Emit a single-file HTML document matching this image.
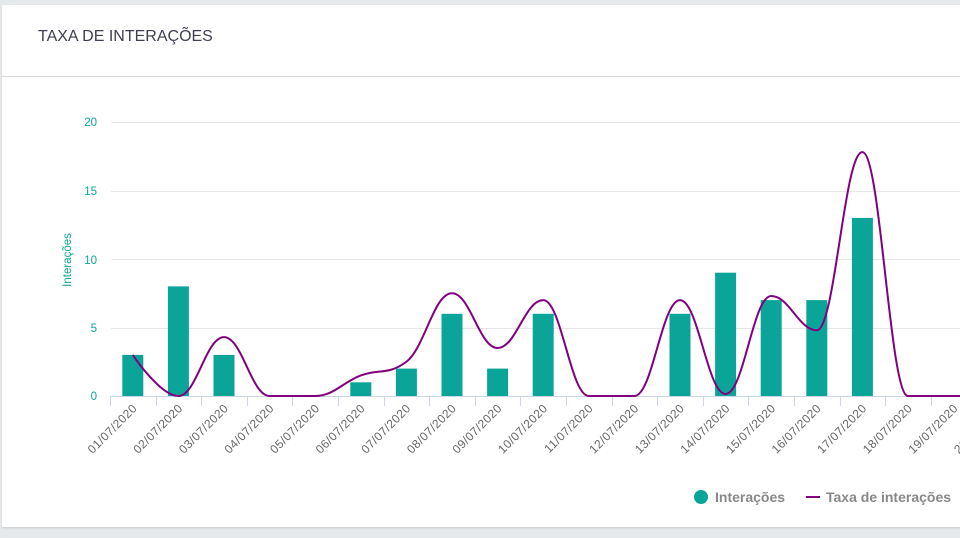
<!DOCTYPE html>
<html><head><meta charset="utf-8"><style>
html,body{margin:0;padding:0;}
body{width:960px;height:538px;background:#e6e9ec;position:relative;overflow:hidden;font-family:"Liberation Sans",sans-serif;}
.card{position:absolute;left:2px;top:5px;width:970px;height:522px;background:#fff;box-shadow:0 1px 2px rgba(0,0,0,.12);}
.title{position:absolute;left:36px;top:23px;font-size:16px;color:#3e3e52;}
.hr{position:absolute;left:0;top:71px;width:100%;height:1px;background:#d9d9d9;}
svg{position:absolute;left:0;top:0;}
</style></head><body>
<div class="card"><div class="title">TAXA DE INTERAÇÕES</div><div class="hr"></div></div>
<svg id="s" width="960" height="538" xmlns="http://www.w3.org/2000/svg" font-family="Liberation Sans, sans-serif">
<g stroke="#e6e6e6" stroke-width="1">
<line x1="111" x2="960" y1="122.5" y2="122.5"/>
<line x1="111" x2="960" y1="191.5" y2="191.5"/>
<line x1="111" x2="960" y1="259.5" y2="259.5"/>
<line x1="111" x2="960" y1="328.5" y2="328.5"/>
</g>
<g fill="#0aa598" font-size="11.5" text-anchor="end">
<text x="97" y="126">20</text><text x="97" y="195">15</text><text x="97" y="264">10</text><text x="97" y="332">5</text><text x="97" y="400">0</text>
</g>
<text fill="#0aa598" font-size="11.5" transform="translate(71,260) rotate(-90)" text-anchor="middle">Interações</text>
<g id="bars" fill="#0aa598"></g>
<line x1="110" x2="960" y1="396.5" y2="396.5" stroke="#ccd6eb"/>
<g id="ticks" stroke="#ccd6eb"></g>
<g id="labels" fill="#666" font-size="12" letter-spacing="0.4" text-anchor="end"></g>
<path id="ln" fill="none" stroke="#800080" stroke-width="2"/>
<circle cx="701" cy="497" r="7" fill="#0aa598"/>
<text x="715" y="502" font-size="14" font-weight="bold" fill="#888">Interações</text>
<line x1="806" x2="820" y1="497" y2="497" stroke="#800080" stroke-width="2"/>
<text x="826" y="502" font-size="14" font-weight="bold" fill="#888">Taxa de interações</text>
</svg>
<script>
var ns="http://www.w3.org/2000/svg";
var bars=[3,8,3,0,0,1,2,6,2,6,0,0,6,9,7,7,13,0,0,0];
var line=[3,0,4.3,0,0,1.5,2.5,7.5,3.5,7,0,0,7,0.15,7.3,4.8,17.8,0,0,0];
var step=45.6,x0=110,y0=396,k=13.7;
function cx(i){return x0+step*(i+0.5);}
var B=document.getElementById('bars'),T=document.getElementById('ticks'),L=document.getElementById('labels');
for(var i=0;i<20;i++){
 if(bars[i]>0){var r=document.createElementNS(ns,'rect');r.setAttribute('x',cx(i)-10.5);r.setAttribute('width',21);r.setAttribute('y',y0-bars[i]*k);r.setAttribute('height',bars[i]*k);B.appendChild(r);}
 var t=document.createElementNS(ns,'line');var tx=Math.round(x0+step*i)+0.5;t.setAttribute('x1',tx);t.setAttribute('x2',tx);t.setAttribute('y1',396);t.setAttribute('y2',406);T.appendChild(t);
 var s=document.createElementNS(ns,'text');var d=(i+1<10?'0':'')+(i+1)+'/07/2020';s.textContent=d;
 s.setAttribute('transform','translate('+(cx(i)+5)+',409) rotate(-45)');L.appendChild(s);
}
var P=line.map(function(v,i){return [cx(i),y0-v*k];});
P.push([cx(20),y0]);
function cont(i){
 var p=P[i],a=P[i-1],b=P[i+1];
 var lx=(1.5*p[0]+a[0])/2.5,ly=(1.5*p[1]+a[1])/2.5,rx=(1.5*p[0]+b[0])/2.5,ry=(1.5*p[1]+b[1])/2.5;
 var c=((ry-ly)*(rx-p[0]))/(rx-lx)+p[1]-ry;ly+=c;ry+=c;
 if(ly>Math.max(a[1],p[1])){ly=Math.max(a[1],p[1]);ry=2*p[1]-ly;}else if(ly<Math.min(a[1],p[1])){ly=Math.min(a[1],p[1]);ry=2*p[1]-ly;}
 if(ry>Math.max(b[1],p[1])){ry=Math.max(b[1],p[1]);ly=2*p[1]-ry;}else if(ry<Math.min(b[1],p[1])){ry=Math.min(b[1],p[1]);ly=2*p[1]-ry;}
 return [lx,ly,rx,ry];
}
var d='M'+P[0][0]+' '+P[0][1],prev=[P[0][0],P[0][1]];
for(var j=1;j<P.length;j++){
 var c=(j<P.length-1)?cont(j):[P[j][0],P[j][1],P[j][0],P[j][1]];
 d+=' C'+prev[0]+' '+prev[1]+' '+c[0]+' '+c[1]+' '+P[j][0]+' '+P[j][1];
 prev=[c[2],c[3]];
}
document.getElementById('ln').setAttribute('d',d);
</script>
</body></html>
